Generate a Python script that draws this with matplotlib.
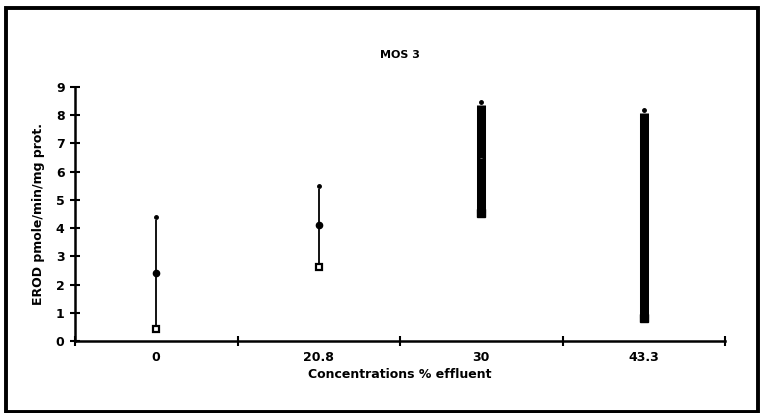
import numpy as np
import matplotlib.pyplot as plt
from matplotlib.patches import Rectangle

categorias = ["0", "20.8", "30", "43.3"]
maximos = [4.4, 5.5, 8.47, 8.2]
topes_linea = [4.3, 5.4, 8.36, 8.07]
medias = [2.4, 4.12, 6.5, np.nan]
minimos = [0.43, 2.61, 4.52, 0.8]

# grosor de la barra vertical por categoria (estilo)
grosores = [1.3, 1.3, 6.5, 6.5]

fig = plt.figure(figsize=(7.6, 4.13), dpi=100)
ax = fig.add_axes([75 / 760, 1 - 341 / 413, 650 / 760, 254 / 413])

x = np.arange(len(categorias))
for xi, lo, top, lw in zip(x, minimos, topes_linea, grosores):
    ax.vlines(xi, lo, top, color="black", linewidth=lw)

ax.plot(x, maximos, "o", color="black", markersize=2.5, linestyle="none")
ax.plot(x[:2], medias[:2], "o", color="black", markersize=4.5, linestyle="none")
ax.plot(x[2:3], medias[2:3], "_", color="#777777", markersize=2,
        markeredgewidth=0.6, linestyle="none")
ax.plot(x[:2], minimos[:2], "s", color="black", markerfacecolor="white",
        markeredgewidth=1.6, markersize=5, linestyle="none")
ax.plot(x[2:], minimos[2:], "s", color="black", markersize=6, linestyle="none")

ax.set_xlim(-0.5, len(categorias) - 0.5)
ax.set_ylim(0, 9)
ax.set_yticks(range(0, 10))
ax.set_xticks(x)
ax.set_xticklabels(categorias)
ax.set_xticks(np.arange(-0.5, len(categorias)), minor=True)
ax.tick_params(axis="x", which="major", length=0, pad=7)
ax.tick_params(axis="x", which="minor", direction="inout", length=7, width=1.5)
ax.tick_params(axis="y", direction="inout", length=7, width=1.5, pad=4)
for lbl in ax.get_xticklabels() + ax.get_yticklabels():
    lbl.set_fontweight("bold")
    lbl.set_fontsize(9)

for s in ["top", "right"]:
    ax.spines[s].set_visible(False)
ax.spines["left"].set_linewidth(1.8)
ax.spines["bottom"].set_linewidth(1.8)

ax.set_title("MOS 3", fontsize=8, fontweight="bold", pad=21)
ax.set_xlabel("Concentrations % effluent", fontsize=9, fontweight="bold", labelpad=3)
ax.set_ylabel("EROD pmole/min/mg prot.", fontsize=9, fontweight="bold", labelpad=8)

fig.patches.append(Rectangle((6 / 760, 1 / 413), 752 / 760, 404 / 413,
                             transform=fig.transFigure, fill=False,
                             edgecolor="black", linewidth=2.8))

fig.savefig("out.png", dpi=100)
